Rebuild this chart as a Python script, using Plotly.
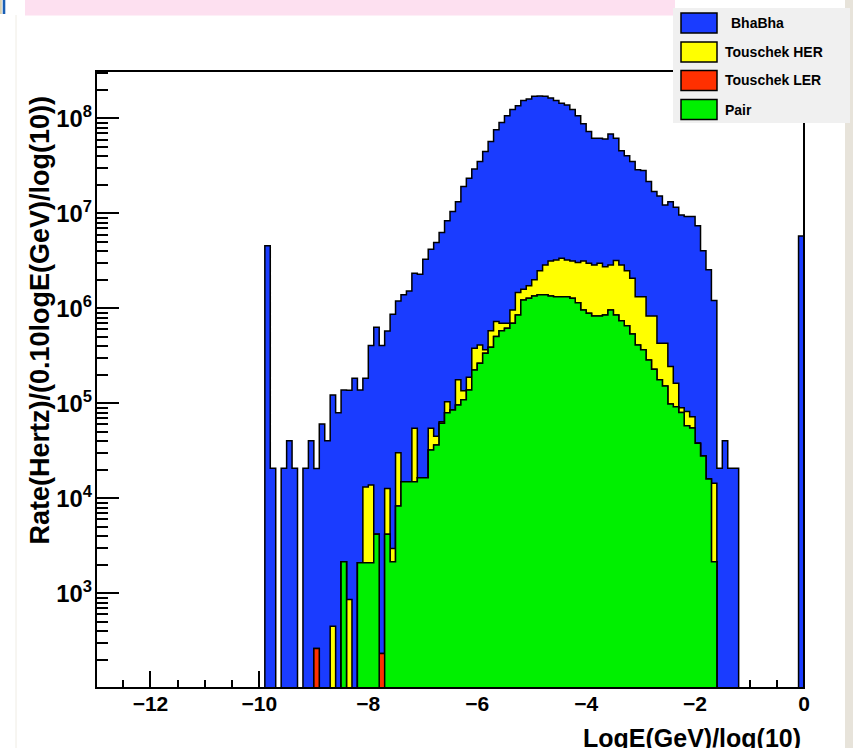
import numpy as np
import plotly.graph_objects as go

# ---------------- data (rate per 0.1 bin of LogE(GeV)/log(10)) ----------------
# 100 bins of width 0.1 from -10.0 to 0.0 (bins below -10 are empty)
bin_low_edge = -10.0
bin_width = 0.1

bhabha = [
    0, 4.56e6, 2.07e4, 0, 2.07e4, 4.05e4, 2.07e4, 0, 2.07e4, 4.05e4,
    2.04e4, 6.07e4, 4.05e4, 1.22e5, 7.98e4, 1.36e5, 1.37e5, 1.84e5, 1.36e5, 1.71e5,
    3.92e5, 6.30e5, 4.06e5, 5.67e5, 8.66e5, 1.17e6, 1.375e6, 1.515e6, 2.295e6, 2.274e6,
    3.284e6, 4.145e6, 4.885e6, 6.226e6, 8.296e6, 1.0415e7, 1.3123e7, 1.9064e7, 2.3312e7, 2.8919e7,
    3.4788e7, 4.4534e7, 5.6717e7, 7.527e7, 9.01e7, 1.063e8, 1.23036e8, 1.3453e8, 1.5341e8, 1.5827e8,
    1.69e8, 1.705e8, 1.6813e8, 1.6084e8, 1.5176e8, 1.4162e8, 1.3576e8, 1.2084e8, 1.0396e8, 8.474e7,
    7.001e7, 5.923e7, 5.911e7, 5.795e7, 6.563e7, 5.891e7, 4.273e7, 3.79e7, 3.312e7, 2.747e7,
    2.697e7, 2.0866e7, 1.6166e7, 1.487e7, 1.187e7, 1.3056e7, 1.1437e7, 9.57e6, 9.188e6, 9.1975e6,
    7.362e6, 4.032e6, 2.534e6, 1.1956e6, 2.07e4, 4.05e4, 2.07e4, 2.07e4, 0, 0,
    0, 0, 0, 0, 0, 0, 0, 0, 0, 5.8e6,
]

touschek_her = [
    0, 0, 0, 0, 0, 0, 0, 0, 0, 0,
    0, 0, 0, 451, 0, 0, 863, 0, 0, 1.11e4,
    1.17e4, 0, 0, 8.5e3, 820, 2.19e4, 0, 0, 3.97e4, 0,
    0, 2.24e4, 8.5e3, 2.4e3, 2.42e4, 0, 8.1e4, 2.7e4, 5.0e4, 1.56e5,
    1.47e5, 2.8e4, 1.93e5, 2.25e5, 1.17e5, 8.2e4, 2.64e5, 6.2e5, 3.6e5, 4.5e5,
    6.5e5, 1.11e6, 1.48e6, 1.81e6, 1.91e6, 2.05e6, 1.91e6, 1.88e6, 1.89e6, 2.196e6,
    2.1e6, 2.036e6, 2.156e6, 1.9e6, 1.906e6, 2.34e6, 2.127e6, 1.845e6, 1.541e6, 9.18e5,
    9.64e5, 5.47e5, 6.05e5, 2.53e5, 2.78e5, 1.454e5, 7.1e4, 1.0e4, 2.4e4, 1.75e4,
    0, 0, 0, 1.225e4, 0, 0, 0, 0, 0, 0,
    0, 0, 0, 0, 0, 0, 0, 0, 0, 0,
]

touschek_ler = [
    0, 0, 0, 0, 0, 0, 0, 0, 0, 0,
    263, 0, 0, 0, 0, 0, 0, 0, 0, 0,
    0, 0, 233, 0, 0, 0, 0, 0, 0, 0,
    0, 0, 0, 0, 0, 0, 0, 0, 0, 0,
    0, 0, 0, 0, 0, 0, 0, 0, 0, 0,
    0, 0, 0, 0, 0, 0, 0, 0, 0, 0,
    0, 0, 0, 0, 0, 0, 0, 0, 0, 0,
    0, 0, 0, 0, 0, 0, 0, 0, 0, 0,
    0, 0, 0, 0, 0, 0, 0, 0, 0, 0,
    0, 0, 0, 0, 0, 0, 0, 0, 0, 0,
]

pair = [
    0, 0, 0, 0, 0, 0, 0, 0, 0, 0,
    0, 0, 0, 0, 0, 2150, 0, 0, 2100, 2100,
    2100, 4200, 0, 4200, 2150, 8300, 1.5e4, 1.5e4, 1.5e4, 1.65e4,
    1.65e4, 3.23e4, 3.65e4, 6.17e4, 7.98e4, 8.5e4, 9.6e4, 1.09e5, 1.38e5, 2.25e5,
    2.65e5, 3.38e5, 3.9e5, 5.05e5, 5.83e5, 6.18e5, 7.0e5, 8.5e5, 1.23e6, 1.28e6,
    1.35e6, 1.39e6, 1.39e6, 1.35e6, 1.33e6, 1.33e6, 1.33e6, 1.28e6, 1.15e6, 9.64e5,
    8.9e5, 8.34e5, 8.34e5, 8.5e5, 9.64e5, 8.5e5, 7.43e5, 6.55e5, 5.39e5, 4.12e5,
    3.66e5, 2.87e5, 2.29e5, 1.77e5, 1.52e5, 9.86e4, 9.2e4, 8.0e4, 5.8e4, 5.5e4,
    3.8e4, 2.8e4, 1.6e4, 2150, 0, 0, 0, 0, 0, 0,
    0, 0, 0, 0, 0, 0, 0, 0, 0, 0,
]

series_names = ["BhaBha", "Touschek HER", "Touschek LER", "Pair"]
series_colors = ["#1a3cff", "#ffff00", "#ff3000", "#00f000"]

x_ticks_major = 2
y_title = "Rate(Hertz)/(0.10logE(GeV)/log(10))"
x_title = "LogE(GeV)/log(10)"

# ---------------- geometry helpers ----------------
W, H = 853, 748
PL, PR, PT, PB = 96, 804, 71, 688


def pxx(x):
    return (x - PL) / (PR - PL)


def pxy(y):
    return (PB - y) / (PB - PT)


FONT = "Liberation Sans, Arial, Helvetica, sans-serif"

n = len(pair)
edges = np.round(bin_low_edge + bin_width * np.arange(n + 1), 2)

# stacked levels (ROOT THStack: Pair at bottom, then LER, HER, BhaBha on top)
lv_pair = np.array(pair, dtype=float)
lv_ler = lv_pair + np.array(touschek_ler, dtype=float)
lv_her = lv_ler + np.array(touschek_her, dtype=float)
lv_bha = lv_her + np.array(bhabha, dtype=float)
levels = [lv_bha, lv_her, lv_ler, lv_pair]

FLOOR = 1e-3  # empty bins drop below the visible log range

fig = go.Figure()
for name, color, lv in zip(series_names, series_colors, levels):
    yv = np.where(lv > 0, lv, FLOOR)
    xs = np.concatenate([[edges[0]], edges[:-1], [edges[-1]], [edges[-1]]])
    ys = np.concatenate([[FLOOR], yv, [yv[-1]], [FLOOR]])
    fig.add_trace(go.Scatter(
        x=xs, y=ys, mode="lines", name=name,
        line=dict(shape="hv", color="black", width=1.5),
        fill="toself", fillcolor=color, showlegend=False,
        hoverinfo="skip",
    ))

shapes = []
annotations = []

# frame
shapes.append(dict(type="rect", xref="paper", yref="paper", x0=0, x1=1, y0=0, y1=1,
                   line=dict(color="black", width=2), layer="above"))

# slide decorations
shapes.append(dict(type="rect", xref="paper", yref="paper",
                   x0=pxx(25), x1=pxx(675), y0=pxy(15.5), y1=pxy(-2),
                   fillcolor="#fde0f0", line=dict(width=0), layer="above"))
shapes.append(dict(type="rect", xref="paper", yref="paper",
                   x0=pxx(845), x1=pxx(856), y0=pxy(752), y1=pxy(-4),
                   fillcolor="#e7e3da", line=dict(width=0), layer="above"))
shapes.append(dict(type="rect", xref="paper", yref="paper",
                   x0=pxx(-2), x1=pxx(1.8), y0=pxy(14), y1=pxy(-2),
                   fillcolor="#d9d0b0", line=dict(width=0), layer="above"))
shapes.append(dict(type="rect", xref="paper", yref="paper",
                   x0=pxx(2.7), x1=pxx(5.3), y0=pxy(14), y1=pxy(-2),
                   fillcolor="#1a5fb4", line=dict(width=0), layer="above"))
shapes.append(dict(type="line", xref="paper", yref="paper",
                   x0=pxx(16), x1=pxx(16), y0=pxy(752), y1=pxy(15),
                   line=dict(color="#efece4", width=1), layer="above"))

# legend box
shapes.append(dict(type="rect", xref="paper", yref="paper",
                   x0=pxx(673), x1=pxx(850), y0=pxy(123), y1=pxy(8),
                   fillcolor="#f0f0f0", line=dict(width=0), layer="above"))
row_y = [23, 52, 80.5, 109.5]
text_x = [729, 723, 723, 723]
for name, color, ry, tx in zip(series_names, series_colors, row_y, text_x):
    shapes.append(dict(type="rect", xref="paper", yref="paper",
                       x0=pxx(681), x1=pxx(717), y0=pxy(ry + 10), y1=pxy(ry - 10),
                       fillcolor=color, line=dict(color="black", width=1.5), layer="above"))
    annotations.append(dict(text=name, xref="paper", yref="paper", x=pxx(tx), y=pxy(ry),
                            xanchor="left", yanchor="middle", showarrow=False,
                            font=dict(family=FONT, size=14, color="black", weight="bold")))

# axis titles
annotations.append(dict(text=y_title, xref="paper", yref="paper", x=pxx(39), y=pxy(94),
                        xanchor="center", yanchor="top", textangle=-90, showarrow=False,
                        font=dict(family=FONT, size=27, color="black", weight="bold")))
annotations.append(dict(text=x_title, xref="paper", yref="paper", x=pxx(803), y=pxy(722),
                        xanchor="right", yanchor="top", showarrow=False,
                        font=dict(family=FONT, size=25, color="black", weight="bold")))

fig.update_layout(
    width=W, height=H,
    margin=dict(l=PL, r=W - PR, t=PT, b=H - PB, pad=0),
    paper_bgcolor="white", plot_bgcolor="white",
    showlegend=False,
    shapes=shapes, annotations=annotations,
    xaxis=dict(
        range=[-13, 0], tick0=0, dtick=x_ticks_major,
        ticks="inside", ticklen=17, tickwidth=2, tickcolor="black",
        minor=dict(dtick=0.5, ticks="inside", ticklen=8, tickwidth=2, tickcolor="black", showgrid=False),
        showline=False, showgrid=False, zeroline=False, layer="below traces",
        tickfont=dict(family=FONT, size=21, color="black", weight="bold"),
        ticklabelstandoff=1,
    ),
    yaxis=dict(
        type="log", range=[2.003, 8.5], dtick=1, exponentformat="power", showexponent="all",
        ticks="inside", ticklen=23, tickwidth=2, tickcolor="black",
        minor=dict(dtick="D1", ticks="inside", ticklen=12, tickwidth=2, tickcolor="black", showgrid=False),
        showline=False, showgrid=False, zeroline=False, layer="below traces",
        tickfont=dict(family=FONT, size=19, color="black", weight="bold"),
        ticklabelstandoff=3,
    ),
)

fig.write_html("out.html")
